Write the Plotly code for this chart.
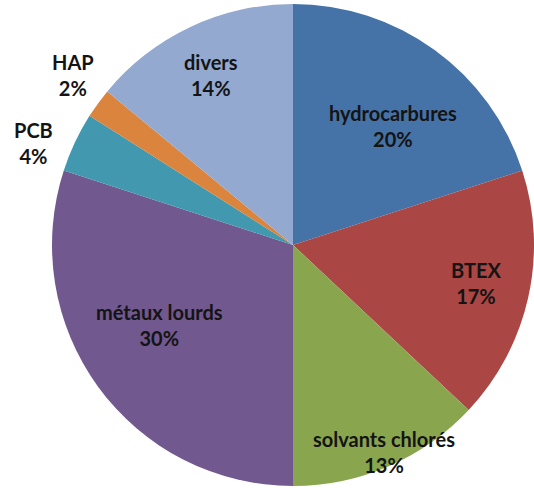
import math
import plotly.graph_objects as go

# Pollutant categories and their share (%)
labels = ["hydrocarbures", "BTEX", "solvants chlorés", "métaux lourds", "PCB", "HAP", "divers"]
values = [20, 17, 13, 30, 4, 2, 14]
colors = ["#4572A7", "#AA4643", "#89A54E", "#71588F", "#4198AF", "#DB843D", "#93A9CF"]

# Label placement: radius as a fraction of the pie radius, and angular nudge (degrees)
label_radius = [0.645, 0.776, 0.938, 0.644, 1.158, 1.154, 0.783]
label_shift = [4.0, -1.0, -0.3, 5.0, -3.8, 1.7, -0.6]

W, H = 534, 488
cx, cy, R = 293, 245, 241

fig = go.Figure(go.Pie(
    labels=labels,
    values=values,
    marker=dict(colors=colors, line=dict(width=0)),
    sort=False,
    direction="clockwise",
    rotation=0,
    textinfo="none",
    hoverinfo="label+percent",
    domain=dict(x=[(cx - R) / W, (cx + R) / W], y=[(H - cy - R) / H, (H - cy + R) / H]),
))

total = sum(values)
acc = 0
annotations = []
for lab, v, rf, sh in zip(labels, values, label_radius, label_shift):
    mid = (acc + v / 2) / total * 2 * math.pi + math.radians(sh)
    acc += v
    px = cx + rf * R * math.sin(mid)
    py = cy - rf * R * math.cos(mid)
    pct = round(v / total * 100)
    annotations.append(dict(
        x=px / W, y=1 - py / H, xref="paper", yref="paper",
        text=f"<b>{lab}<br>{pct}%</b>", showarrow=False,
        font=dict(family="Lato", size=20, color="#141414"),
        align="center", xanchor="center", yanchor="middle",
    ))

fig.update_layout(
    width=W, height=H,
    margin=dict(l=0, r=0, t=0, b=0),
    paper_bgcolor="white",
    showlegend=False,
    annotations=annotations,
)

fig.write_html("out.html")
